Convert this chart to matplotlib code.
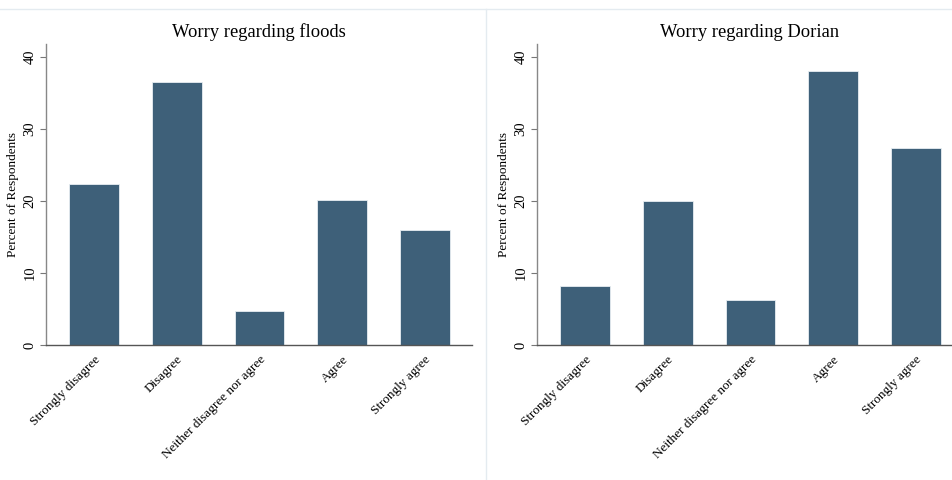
import matplotlib
matplotlib.use("Agg")
import matplotlib.pyplot as plt
from matplotlib.lines import Line2D

categories = ["Strongly disagree", "Disagree", "Neither disagree nor agree", "Agree", "Strongly agree"]
floods = [22.4, 36.5, 4.7, 20.1, 16.0]
dorian = [8.15, 19.95, 6.2, 38.1, 27.3]
titles = ["Worry regarding floods", "Worry regarding Dorian"]
yticks = [0, 10, 20, 30, 40]

plt.rcParams['font.family'] = ['Liberation Serif', 'DejaVu Serif']

W, H = 952, 480
fig = plt.figure(figsize=(W / 100, H / 100), dpi=100)
fig.patch.set_facecolor('white')

bar_color = '#3e6079'
ax_w = 426 / W
ax_b = (H - 345) / H
ax_h = (345 - 44) / H
lefts = [46 / W, 537 / W]

for left, vals, title in zip(lefts, [floods, dorian], titles):
    ax = fig.add_axes([left, ax_b, ax_w, ax_h])
    x = list(range(len(categories)))
    ax.bar(x, vals, width=0.6, color=bar_color, edgecolor='#e8eef2', linewidth=0.6)
    ax.set_xlim(-0.58, 4.57)
    ax.set_ylim(0, 41.8)
    ax.set_yticks(yticks)
    ax.set_yticklabels([str(t) for t in yticks], rotation=90, va='center', fontsize=10.5)
    ax.set_xticks(x)
    ax.set_xticklabels(categories, rotation=45, ha='right', rotation_mode='anchor', fontsize=9.5)
    ax.tick_params(axis='x', length=0, pad=6)
    ax.tick_params(axis='y', length=4, width=0.8, color='#777777', pad=3)
    for s in ['top', 'right']:
        ax.spines[s].set_visible(False)
    ax.spines['left'].set_color('#888888')
    ax.spines['left'].set_linewidth(1.0)
    ax.spines['bottom'].set_color('#555555')
    ax.spines['bottom'].set_linewidth(1.0)
    ax.set_ylabel("Percent of Respondents", fontsize=9.5, labelpad=3)
    ax.set_title(title, fontsize=13.3, pad=5)

# faint panel borders
fig.add_artist(Line2D([0, 1], [1 - 9 / H, 1 - 9 / H], transform=fig.transFigure, color='#e4ebf0', lw=1))
fig.add_artist(Line2D([486 / W, 486 / W], [0, 1 - 9 / H], transform=fig.transFigure, color='#e4ebf0', lw=1))

fig.savefig("out.png", dpi=100, facecolor='white')
